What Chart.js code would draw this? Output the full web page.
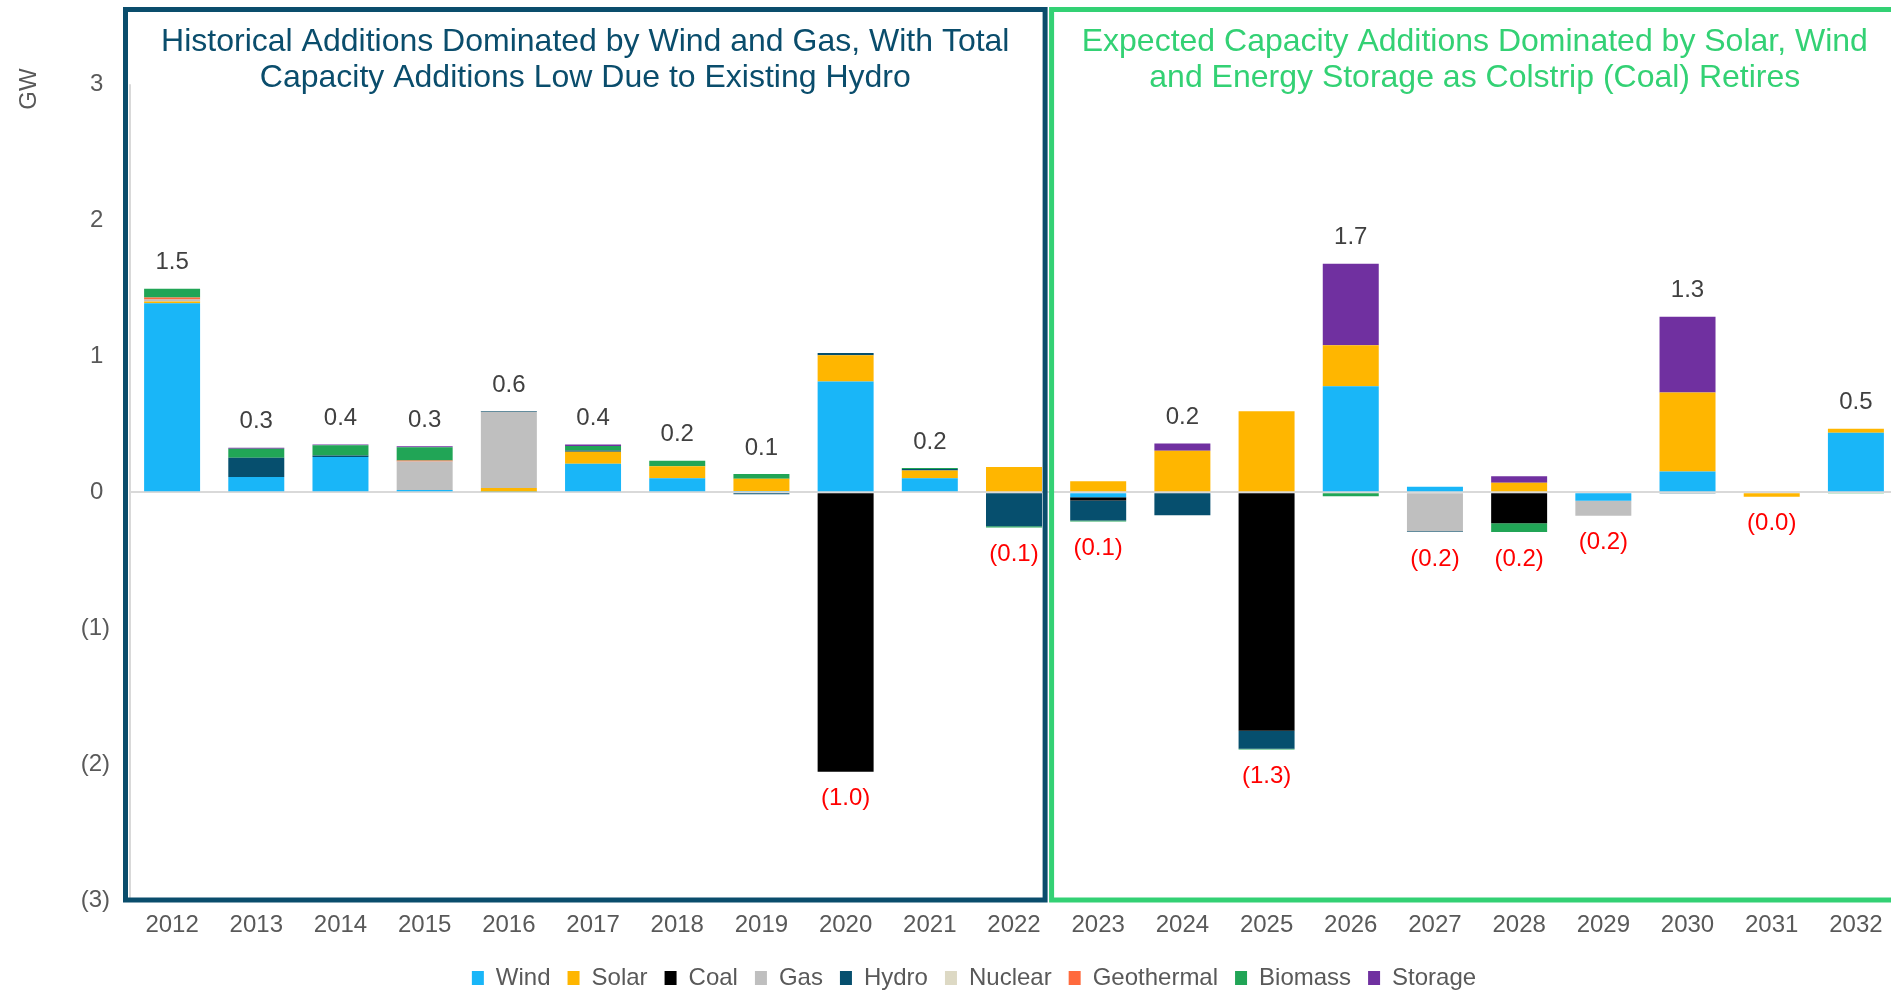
<!DOCTYPE html>
<html>
<head>
<meta charset="utf-8">
<title>Capacity Additions</title>
<script src="https://cdn.jsdelivr.net/npm/chart.js@4.4.1/dist/chart.umd.min.js"></script>
<style>
  html, body { margin: 0; padding: 0; background: #fff; overflow: hidden; }
  #wrap { width: 1900px; height: 990px; position: relative; }
</style>
</head>
<body>
<div id="wrap"><canvas id="capChart"></canvas></div>
<script>
// categories
const years = ['2012','2013','2014','2015','2016','2017','2018','2019','2020','2021','2022',
               '2023','2024','2025','2026','2027','2028','2029','2030','2031','2032'];

// GW added (+) or retired (-) by technology
const wind       = [1.39, 0.111, 0.258, 0.015, 0.005, 0.209, 0.103, 0.008, 0.813, 0.103, 0, -0.037, 0, 0, 0.779, 0.04, 0, -0.064, 0.152, 0, 0.437];
const solar      = [0.012, 0, 0, 0, 0.025, 0.088, 0.088, 0.091, 0.194, 0.056, 0.184, 0.081, 0.305, 0.595, 0.302, 0, 0.069, 0, 0.58, -0.034, 0.03];
const coal       = [0, 0, 0, 0, 0, 0, 0, 0, -2.057, 0, 0, -0.025, 0, -1.755, 0, 0, -0.228, 0, 0, 0, 0];
const gas        = [0.015, 0, 0, 0.211, 0.562, 0, 0, 0, 0, 0, 0, 0, 0, 0, 0, -0.287, 0, -0.11, 0, 0, 0];
const hydro      = [0, 0.142, 0.012, 0, 0.005, 0.01, 0, -0.015, 0.017, 0.012, -0.25, -0.147, -0.17, -0.133, 0, -0.007, 0, 0, -0.01, 0, 0];
const nuclear    = [0, 0, 0, 0, 0, 0, 0, 0, 0, 0, 0, 0, 0, 0, 0, 0, 0, 0, 0, 0, 0];
const geothermal = [0.015, 0, 0, 0.007, 0, 0, 0, 0, 0, 0, 0, 0, 0, 0, 0, 0, 0, 0, 0, 0, 0];
const biomass    = [0.064, 0.066, 0.074, 0.098, 0, 0.032, 0.039, 0.034, 0, 0.007, -0.01, -0.007, 0, -0.005, -0.03, 0, -0.066, 0, 0, 0, -0.01];
const storage    = [0, 0.007, 0.007, 0.007, 0, 0.012, 0, 0, 0, 0, 0, 0, 0.052, 0, 0.599, 0, 0.047, 0, 0.558, 0, 0];

// net totals printed on the chart
const netLabels = [1.5, 0.3, 0.4, 0.3, 0.6, 0.4, 0.2, 0.1, -1.0, 0.2, -0.1,
                   -0.1, 0.2, -1.3, 1.7, -0.2, -0.2, -0.2, 1.3, -0.0, 0.5];

const yTicks = [-3, -2, -1, 0, 1, 2, 3];

const leftTitle = ['Historical Additions Dominated by Wind and Gas, With Total',
                   'Capacity Additions Low Due to Existing Hydro'];
const rightTitle = ['Expected Capacity Additions Dominated by Solar, Wind',
                    'and Energy Storage as Colstrip (Coal) Retires'];

const FONT = '"Liberation Sans", Arial, sans-serif';
const NAVY = '#0A4D6C';
const GREEN = '#33D174';

let series = [
  { label: 'Wind', data: wind, color: '#19B6F8' },
  { label: 'Solar', data: solar, color: '#FFB600' },
  { label: 'Coal', data: coal, color: '#000000' },
  { label: 'Gas', data: gas, color: '#BFBFBF' },
  { label: 'Hydro', data: hydro, color: '#064F6E' },
  { label: 'Nuclear', data: nuclear, color: '#DDD9C4' },
  { label: 'Geothermal', data: geothermal, color: '#FF6A3D' },
  { label: 'Biomass', data: biomass, color: '#21A556' },
  { label: 'Storage', data: storage, color: '#7030A0' }
];

let decor = {
  id: 'decor',
  afterLayout(chart) {
    // excel legend sits a bit right of centre and lower
    chart.legend.left += 25;
    chart.legend.right += 25;
    chart.legend.top += 9;
    chart.legend.bottom += 9;
  },
  afterDatasetsDraw(chart) {
    const ctx = chart.ctx;
    const xs = chart.scales.x, ys = chart.scales.y;
    ctx.save();
    ctx.font = '24px ' + FONT;
    ctx.textAlign = 'center';
    ctx.textBaseline = 'middle';
    years.forEach((yr, i) => {
      let pos = 0, neg = 0;
      series.forEach(s => { if (s.data[i] > 0) pos += s.data[i]; else neg += s.data[i]; });
      const v = netLabels[i];
      const isNeg = v < 0 || Object.is(v, -0);
      const x = xs.getPixelForValue(i);
      if (isNeg) {
        ctx.fillStyle = '#FF0000';
        ctx.fillText('(' + Math.abs(v).toFixed(1) + ')', x, ys.getPixelForValue(neg) + 27);
      } else {
        ctx.fillStyle = '#404040';
        ctx.fillText(v.toFixed(1), x, ys.getPixelForValue(pos) - 26);
      }
    });
    ctx.restore();
  },
  afterDraw(chart) {
    const ctx = chart.ctx;
    const xs = chart.scales.x, ys = chart.scales.y;
    const area = chart.chartArea;
    const split = xs.getPixelForValue(10.5);
    const top = area.top;
    const bottom = ys.getPixelForValue(-3);

    ctx.save();
    // faint value axis line
    ctx.strokeStyle = '#D9D9D9';
    ctx.lineWidth = 2;
    ctx.beginPath();
    ctx.moveTo(area.left, ys.getPixelForValue(3));
    ctx.lineTo(area.left, bottom);
    ctx.stroke();

    // the two framing boxes
    ctx.lineWidth = 5;
    ctx.strokeStyle = NAVY;
    const l1 = area.left - 4.5, r1 = split - 11;
    ctx.strokeRect(l1, top, r1 - l1, bottom - top);
    ctx.strokeStyle = GREEN;
    const l2 = split - 4.5, r2 = area.right;
    ctx.strokeRect(l2, top, r2 - l2, bottom - top);

    // box captions
    ctx.font = '32px ' + FONT;
    ctx.textAlign = 'center';
    ctx.textBaseline = 'alphabetic';
    ctx.fillStyle = NAVY;
    leftTitle.forEach((t, k) => ctx.fillText(t, (l1 + r1) / 2, top + 41 + k * 36));
    ctx.fillStyle = GREEN;
    rightTitle.forEach((t, k) => ctx.fillText(t, (l2 + r2) / 2, top + 41 + k * 36));

    // unit label
    ctx.font = '24px ' + FONT;
    ctx.fillStyle = '#595959';
    ctx.translate(29, 89);
    ctx.rotate(-Math.PI / 2);
    ctx.textBaseline = 'middle';
    ctx.fillText('GW', 0, 0);
    ctx.restore();
  }
};

let ctx = document.getElementById('capChart').getContext('2d');

let myChart = new Chart(ctx, {
  type: 'bar',
  data: {
    labels: years,
    datasets: series.map(s => ({
      label: s.label,
      data: s.data,
      backgroundColor: s.color,
      borderWidth: 0,
      categoryPercentage: 0.665,
      barPercentage: 1
    }))
  },
  options: {
    responsive: true,
    maintainAspectRatio: false,
    animation: false,
    layout: { padding: { top: 9.5, right: 2, bottom: 0, left: 0 } },
    plugins: {
      legend: {
        position: 'bottom',
        maxHeight: 50,
        labels: {
          boxWidth: 12,
          boxHeight: 14,
          padding: 17,
          color: '#595959',
          font: { family: FONT, size: 24 }
        }
      },
      tooltip: { enabled: false }
    },
    scales: {
      x: {
        stacked: true,
        afterFit(scale) { scale.height = 40; },
        grid: { display: false, drawTicks: false },
        border: { display: false },
        ticks: {
          color: '#595959',
          font: { family: FONT, size: 24 },
          padding: 11,
          maxRotation: 0,
          autoSkip: false
        }
      },
      y: {
        stacked: true,
        min: yTicks[0],
        max: 3.55,
        afterFit(scale) {
          scale.width = 130;
          scale.paddingTop = 0;
          scale.paddingBottom = 0;
        },
        border: { display: false },
        grid: {
          drawTicks: false,
          lineWidth: 2,
          color: c => (c.tick && c.tick.value === 0) ? '#D9D9D9' : 'rgba(0,0,0,0)'
        },
        ticks: {
          stepSize: 1,
          includeBounds: false,
          padding: 20,
          color: '#595959',
          font: { family: FONT, size: 24 },
          callback: v => yTicks.includes(v) ? (v < 0 ? '(' + (-v) + ')' : v + ' ') : ''
        }
      }
    }
  },
  plugins: [decor]
});
</script>
</body>
</html>
